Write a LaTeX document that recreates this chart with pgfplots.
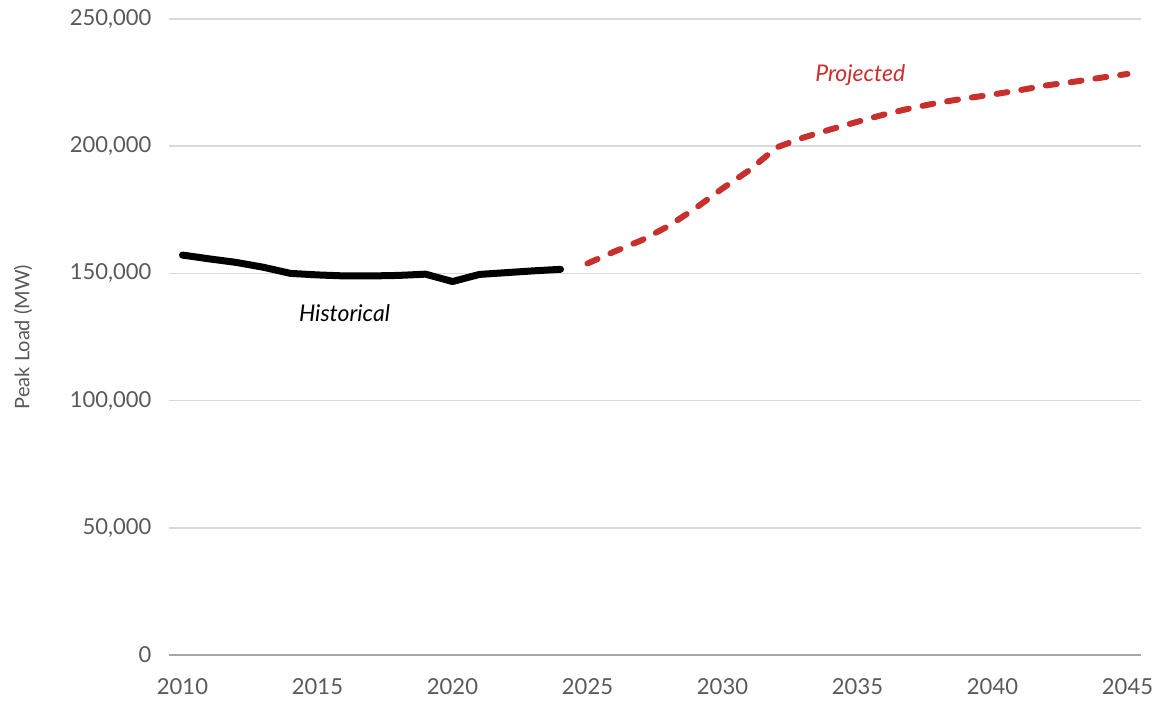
\documentclass[border=0pt]{standalone}
\usepackage{pgfplots}
\pgfplotsset{compat=1.18}
\usepackage{fontspec}
\setmainfont{Lato}
\definecolor{txt}{HTML}{595959}
\definecolor{gridc}{HTML}{D9D9D9}
\definecolor{axisc}{HTML}{A6A6A6}
\definecolor{proj}{HTML}{C8302E}

\begin{document}
\begin{tikzpicture}
\path[use as bounding box] (-169pt,-51pt) rectangle (991pt,655pt);
\begin{axis}[
  scale only axis, width=972pt, height=636pt,
  xmin=2009.5, xmax=2045.5, ymin=0, ymax=250000,
  xtick={2010,2015,2020,2025,2030,2035,2040,2045},
  xticklabels={2010,2015,2020,2025,2030,2035,2040,2045},
  ytick={0,50000,100000,150000,200000,250000},
  yticklabels={0,{50,000},{100,000},{150,000},{200,000},{250,000}},
  scaled ticks=false,
  axis x line*=bottom, axis y line*=left,
  x axis line style={draw=axisc, line width=2pt},
  y axis line style={draw=none},
  major tick length=0pt,
  ymajorgrids, grid style={draw=gridc, line width=1.6pt},
  tick label style={font=\fontsize{22}{26}\selectfont, text=txt},
  xticklabel style={yshift=-20pt},
  yticklabel style={xshift=-14pt},
  ylabel={Peak Load (MW)},
  every axis y label/.style={at={(axis description cs:0,0.5)}, xshift=-146pt,
    rotate=90, anchor=center, font=\fontsize{20}{24}\selectfont, text=txt},
  clip=false,
]
% Historical peak load
\addplot[black, line width=7pt, line join=round, line cap=round] coordinates {
  (2010,157200) (2011,155700) (2012,154300) (2013,152400) (2014,150000)
  (2015,149400) (2016,149000) (2017,149000) (2018,149200) (2019,149700)
  (2020,146800) (2021,149600) (2022,150300) (2023,151000) (2024,151600)
};
% Projected peak load
\addplot[proj, line width=6pt, line join=round, line cap=round,
  dash pattern=on 11pt off 14pt] coordinates {
  (2025,153900) (2026,158600) (2027,163000) (2028,168600) (2029,175600)
  (2030,183400) (2031,190600) (2032,199500) (2033,203400) (2034,206600)
  (2035,209600) (2036,212500) (2037,215000) (2038,217100) (2039,218800)
  (2040,220300) (2041,222000) (2042,223900) (2043,225300) (2044,226900)
  (2045,228400)
};
\node[font=\fontsize{23}{27}\selectfont\itshape, text=black] at (axis cs:2016,134400) {Historical};
\node[font=\fontsize{23}{27}\selectfont\itshape, text=proj] at (axis cs:2035.1,228000) {Projected};
\end{axis}
\end{tikzpicture}
\end{document}
